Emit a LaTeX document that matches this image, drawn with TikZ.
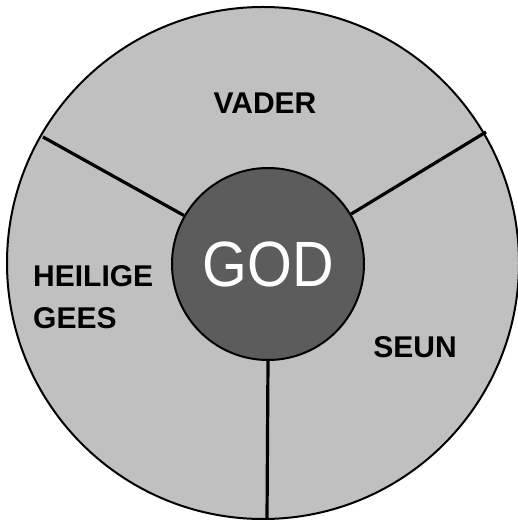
\documentclass[tikz,border=0pt]{standalone}
\usepackage{fontspec}
\setmainfont{Liberation Sans}
\usetikzlibrary{calc}
\definecolor{wheelgray}{RGB}{192,192,192}
\definecolor{godgray}{RGB}{92,92,92}

\begin{document}
\begin{tikzpicture}[x=1pt,y=1pt,
  wheel/.style={circle,draw=black,line width=2pt,fill=wheelgray,inner sep=0pt},
  spoke/.style={line width=3.2pt,black},
  label/.style={font=\fontsize{30}{42}\selectfont\bfseries,text=black,inner sep=0pt}]
  \useasboundingbox (0,0) rectangle (518,522);
  \node[wheel,minimum size=512pt] (rim) at (263,259){};
  \node[wheel,fill=godgray,minimum size=192pt,
        font=\fontsize{64}{64}\selectfont,text=white] (god) at (268,258){\scalebox{.9}[1]{GOD}};
  \coordinate (v1) at (43,385);
  \coordinate (v2) at (486,390);
  \coordinate (v3) at (267,3);
  \draw[spoke] (god.150.6)--(v1);
  \draw[spoke] (god.31.2)--(v2);
  \draw[spoke] (god.south)--(v3);
  \node[label] (vader) at (265,419){VADER};
  \node[label,align=left,anchor=west] (gees) at (33,225){HEILIGE\\GEES};
  \node[label] (seun) at (415,175){SEUN};
\end{tikzpicture}
\end{document}
